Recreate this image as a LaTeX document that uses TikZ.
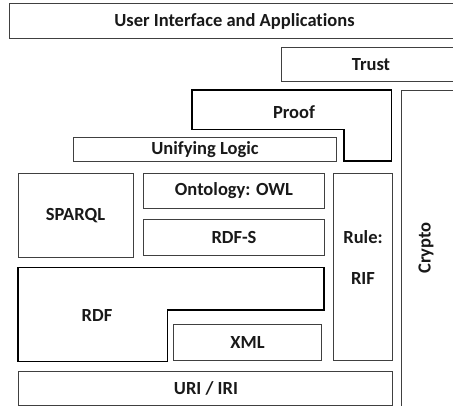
\documentclass[tikz,border=0pt]{standalone}
\usepackage{fontspec}
\setmainfont[RawFeature=-liga]{Carlito}
\begin{document}
\begin{tikzpicture}[x=1pt,y=-1pt,
  thinbox/.style={draw=black!75, line width=1pt},
  thickbox/.style={draw=black, line width=1.7pt},
  lbl/.style={font=\bfseries\fontsize{18.5}{21}\selectfont, inner sep=0pt, text=black!90}]
\useasboundingbox (0,0) rectangle (453,406);
\begin{scope}
\clip (0,0) rectangle (453,406);
% boxes
\draw[thinbox] (9.5,4) rectangle (470,39);
\draw[thinbox] (281,48) rectangle (470,82);
\draw[thinbox] (401.5,90.5) rectangle (470,420);
\draw[thickbox] (192,90) -- (391.5,90) -- (391.5,161) -- (344,161) -- (344,129.5) -- (192,129.5) -- cycle;
\draw[thinbox] (73.5,137.5) rectangle (336.5,161.5);
\draw[thinbox] (18,173.5) rectangle (133.5,257.5);
\draw[thinbox] (143.5,174) rectangle (324,209);
\draw[thinbox] (143.5,220) rectangle (324,255.5);
\draw[thinbox] (333,173.5) rectangle (392.5,360.5);
\draw[thickbox] (18,267.5) -- (324,267.5) -- (324,310) -- (167.5,310) -- (167.5,361.5) -- (18,361.5) -- cycle;
\draw[thinbox] (173.5,325) rectangle (321.5,360.5);
\draw[thinbox] (18,371.5) rectangle (392.5,405.5);
\end{scope}
% labels
\node[lbl] (ui) at (234.5,21.5) {User Interface and Applications};
\node[lbl] (trust) at (371,64.5) {Trust};
\node[lbl] (proof) at (294,112) {Proof};
\node[lbl] (logic) at (205,150) {Unifying Logic};
\node[lbl] (owl) at (234,190.5) {Ontology: OWL};
\node[lbl] (rdfs) at (234,237.5) {RDF-S};
\node[lbl] (sparql) at (75.5,215.5) {SPARQL};
\node[lbl] (rule) at (363,237.5) {Rule:};
\node[lbl] (rif) at (363,278.5) {RIF};
\node[lbl, rotate=90] (crypto) at (426,248) {Crypto};
\node[lbl] (rdf) at (97,315.5) {RDF};
\node[lbl] (xml) at (247.5,342.5) {XML};
\node[lbl] (uri) at (206,388.5) {URI / IRI};
\end{tikzpicture}
\end{document}
